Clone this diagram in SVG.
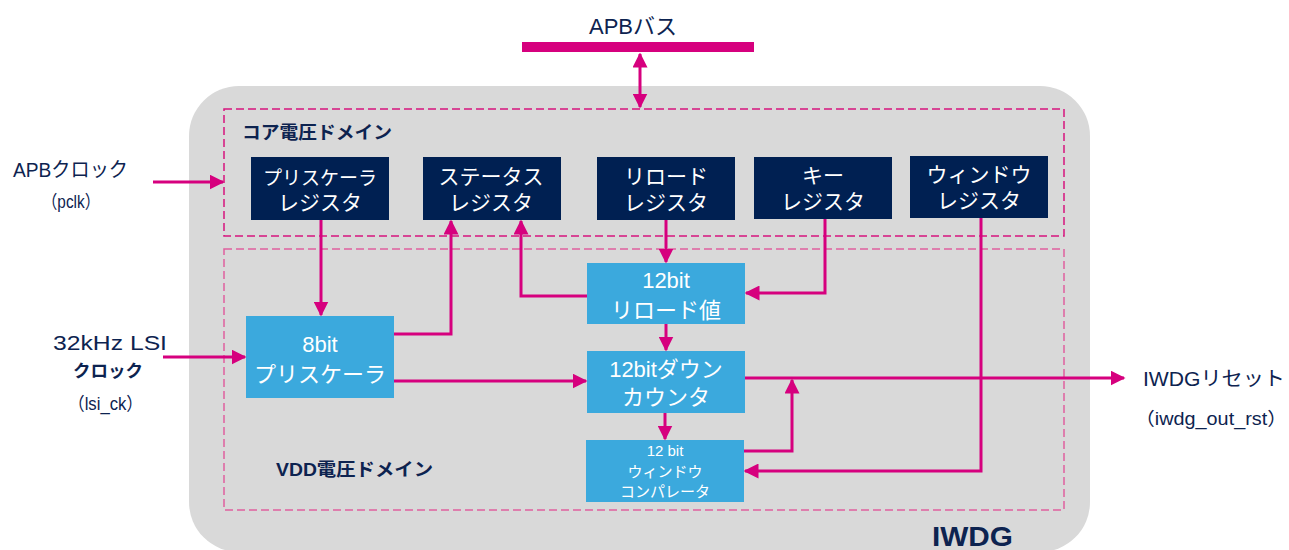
<svg xmlns="http://www.w3.org/2000/svg" width="1289" height="550" viewBox="0 0 1289 550">
<style>
text{font-family:"Liberation Sans","Noto Sans CJK JP",sans-serif;}
.lbl{fill:#0d2350;}
.reg{fill:#002052;}
.blk{fill:#3ba9dd;}
.wt{fill:#ffffff;font-size:21px;text-anchor:middle;}
.bt{fill:#ffffff;font-size:22px;text-anchor:middle;}
.sm{fill:#ffffff;font-size:15px;text-anchor:middle;}
.ln{stroke:#d6007e;stroke-width:3;fill:none;}
.b{font-weight:bold;}
</style>
<defs>
<marker id="ah" viewBox="0 0 10 10" refX="9" refY="5" markerWidth="5" markerHeight="5" orient="auto-start-reverse" markerUnits="strokeWidth">
<path d="M0,0 L10,5 L0,10 z" fill="#d6007e"/>
</marker>
</defs>
<rect x="0" y="0" width="1289" height="550" fill="#ffffff"/>
<g id="iwdg">
<rect x="189" y="86" width="901" height="466" rx="50" ry="50" fill="#d9d9d9"/>
<text x="932" y="546" class="lbl b" font-size="27" textLength="81" lengthAdjust="spacingAndGlyphs">IWDG</text>
</g>
<g id="core-domain">
<rect x="224" y="109" width="840" height="127" fill="none" stroke="#d6157e" stroke-width="1.5" stroke-dasharray="8 4"/>
<text x="242" y="139" class="lbl b" font-size="18" textLength="150" lengthAdjust="spacingAndGlyphs">コア電圧ドメイン</text>
</g>
<g id="vdd-domain">
<rect x="224" y="249" width="840" height="261" fill="none" stroke="#e0609e" stroke-width="1.5" stroke-dasharray="8 4"/>
<text x="276" y="476" class="lbl b" font-size="18" textLength="157" lengthAdjust="spacingAndGlyphs">VDD電圧ドメイン</text>
</g>
<g id="apb-bus">
<rect x="522" y="42" width="232" height="10" fill="#d6007e"/>
<text x="633" y="34" class="lbl" font-size="22" text-anchor="middle">APBバス</text>
</g>
<g id="prescaler-reg">
<rect x="251" y="157" width="138" height="63" class="reg"/>
<text x="320" y="185" class="wt" style="font-size:19px">プリスケーラ</text>
<text x="320" y="210" class="wt">レジスタ</text>
</g>
<g id="status-reg">
<rect x="423" y="157" width="138" height="63" class="reg"/>
<text x="491" y="184" class="wt">ステータス</text>
<text x="491" y="210" class="wt">レジスタ</text>
</g>
<g id="reload-reg">
<rect x="597" y="157" width="138" height="63" class="reg"/>
<text x="666" y="184" class="wt">リロード</text>
<text x="666" y="210" class="wt">レジスタ</text>
</g>
<g id="key-reg">
<rect x="754" y="157" width="138" height="62" class="reg"/>
<text x="823" y="183" class="wt">キー</text>
<text x="823" y="209" class="wt">レジスタ</text>
</g>
<g id="window-reg">
<rect x="910" y="156" width="138" height="62" class="reg"/>
<text x="979" y="182" class="wt">ウィンドウ</text>
<text x="979" y="208" class="wt">レジスタ</text>
</g>
<g id="prescaler">
<rect x="246" y="316" width="148" height="82" class="blk"/>
<text x="320" y="352" class="bt">8bit</text>
<text x="320" y="382" class="bt">プリスケーラ</text>
</g>
<g id="reload-value">
<rect x="587" y="263" width="158" height="61" class="blk"/>
<text x="666" y="288" class="bt">12bit</text>
<text x="666" y="318" class="bt">リロード値</text>
</g>
<g id="down-counter">
<rect x="587" y="351" width="158" height="62" class="blk"/>
<text x="666" y="377" class="bt">12bitダウン</text>
<text x="666" y="405" class="bt">カウンタ</text>
</g>
<g id="comparator">
<rect x="586" y="440" width="158" height="62" class="blk"/>
<text x="665" y="456" class="sm">12 bit</text>
<text x="665" y="477" class="sm">ウィンドウ</text>
<text x="665" y="497" class="sm">コンパレータ</text>
</g>
<g id="apb-clock">
<text x="13" y="177" class="lbl" font-size="20" textLength="115" lengthAdjust="spacingAndGlyphs">APBクロック</text>
<text x="42" y="208" class="lbl" font-size="18" textLength="58" lengthAdjust="spacingAndGlyphs">（pclk）</text>
</g>
<g id="lsi-clock">
<text x="53" y="350" class="lbl" font-size="21" textLength="114" lengthAdjust="spacingAndGlyphs">32kHz LSI</text>
<text x="73" y="377" class="lbl b" font-size="17.5" textLength="70" lengthAdjust="spacingAndGlyphs">クロック</text>
<text x="68" y="410" class="lbl" font-size="18" textLength="75" lengthAdjust="spacingAndGlyphs">（lsi_ck）</text>
</g>
<g id="iwdg-reset">
<text x="1143" y="386" class="lbl" font-size="20" textLength="142" lengthAdjust="spacingAndGlyphs">IWDGリセット</text>
<text x="1135" y="425" class="lbl" font-size="18" textLength="152" lengthAdjust="spacingAndGlyphs">（iwdg_out_rst）</text>
</g>
<g id="connectors">
<line x1="640" y1="54" x2="640" y2="107" class="ln" marker-start="url(#ah)" marker-end="url(#ah)"/>
<line x1="153" y1="182" x2="223" y2="182" class="ln" marker-end="url(#ah)"/>
<line x1="163" y1="357" x2="245" y2="357" class="ln" marker-end="url(#ah)"/>
<line x1="321" y1="220" x2="321" y2="315" class="ln" marker-end="url(#ah)"/>
<polyline points="394,334 451,334 451,221" class="ln" marker-end="url(#ah)"/>
<polyline points="587,296 521,296 521,221" class="ln" marker-end="url(#ah)"/>
<line x1="666" y1="220" x2="666" y2="262" class="ln" marker-end="url(#ah)"/>
<polyline points="825,219 825,293 746,293" class="ln" marker-end="url(#ah)"/>
<line x1="666" y1="324" x2="666" y2="350" class="ln" marker-end="url(#ah)"/>
<line x1="394" y1="381" x2="586" y2="381" class="ln" marker-end="url(#ah)"/>
<line x1="745" y1="378" x2="1124" y2="378" class="ln" marker-end="url(#ah)"/>
<line x1="665" y1="413" x2="665" y2="439" class="ln" marker-end="url(#ah)"/>
<polyline points="744,451 792,451 792,380" class="ln" marker-end="url(#ah)"/>
<polyline points="981,218 981,471 745,471" class="ln" marker-end="url(#ah)"/>
</g>
</svg>
